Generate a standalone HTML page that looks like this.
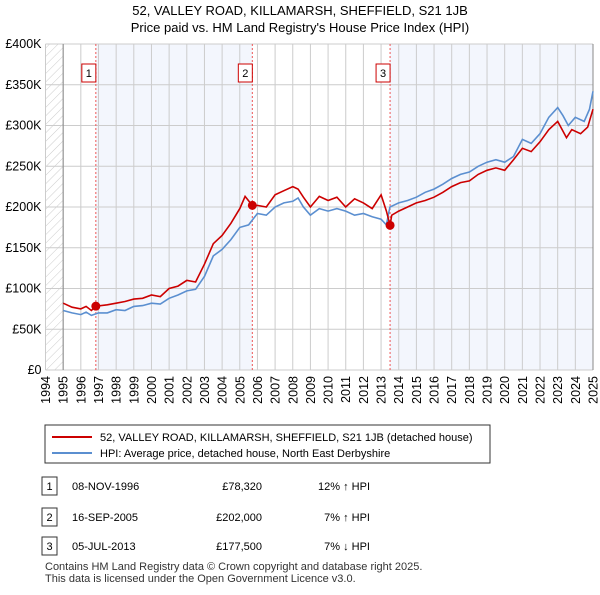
<!DOCTYPE html>
<html><head><meta charset="utf-8"><style>
body{margin:0;background:#fff;font-family:"Liberation Sans","DejaVu Sans",sans-serif;}
svg text{font-family:"Liberation Sans","DejaVu Sans",sans-serif;}
</style></head><body>
<svg width="600" height="590" viewBox="0 0 600 590">
<defs><pattern id="hatch" width="6" height="6" patternUnits="userSpaceOnUse" patternTransform="rotate(45)"><line x1="0" y1="0" x2="0" y2="6" stroke="#ccc" stroke-width="1"/></pattern></defs>
<text x="300" y="15" text-anchor="middle" font-size="13">52, VALLEY ROAD, KILLAMARSH, SHEFFIELD, S21 1JB</text>
<text x="300" y="32" text-anchor="middle" font-size="13">Price paid vs. HM Land Registry's House Price Index (HPI)</text>
<g id="plot"></g>
<rect x="45" y="425" width="445" height="38" fill="#fff" stroke="#333"/>
<line x1="52" y1="437" x2="92" y2="437" stroke="#cc0000" stroke-width="2"/>
<text x="100" y="441" font-size="11">52, VALLEY ROAD, KILLAMARSH, SHEFFIELD, S21 1JB (detached house)</text>
<line x1="52" y1="453" x2="92" y2="453" stroke="#5b8fd0" stroke-width="2"/>
<text x="100" y="457" font-size="11">HPI: Average price, detached house, North East Derbyshire</text>
<g id="table" font-size="11"></g>
<text x="45" y="570" font-size="11" fill="#333">Contains HM Land Registry data © Crown copyright and database right 2025.</text>
<text x="45" y="582" font-size="11" fill="#333">This data is licensed under the Open Government Licence v3.0.</text>
</svg>
<script>
const yTicks=[0,50,100,150,200,250,300,350,400];
const yTickLabels=["£0","£50K","£100K","£150K","£200K","£250K","£300K","£350K","£400K"];
const years=[1994,1995,1996,1997,1998,1999,2000,2001,2002,2003,2004,2005,2006,2007,2008,2009,2010,2011,2012,2013,2014,2015,2016,2017,2018,2019,2020,2021,2022,2023,2024,2025];
const hpiT=[1995,1995.5,1996,1996.3,1996.6,1997,1997.5,1998,1998.5,1999,1999.5,2000,2000.5,2001,2001.5,2002,2002.5,2003,2003.5,2004,2004.5,2005,2005.5,2006,2006.5,2007,2007.5,2008,2008.3,2008.6,2009,2009.5,2010,2010.5,2011,2011.5,2012,2012.5,2013,2013.3,2013.5,2014,2014.5,2015,2015.5,2016,2016.5,2017,2017.5,2018,2018.5,2019,2019.5,2020,2020.5,2021,2021.5,2022,2022.5,2023,2023.3,2023.6,2024,2024.5,2024.8,2025];
const hpiV=[73,70,68,71,67,70,70,74,73,78,79,82,81,88,92,97,99,115,140,148,160,175,178,192,190,200,205,207,211,200,190,198,195,198,195,190,192,188,185,178,200,205,208,212,218,222,228,235,240,243,250,255,258,255,262,283,278,290,310,322,312,300,310,305,320,342];
const redT=[1995,1995.5,1996,1996.3,1996.6,1996.85,1997.5,1998,1998.5,1999,1999.5,2000,2000.5,2001,2001.5,2002,2002.5,2003,2003.5,2004,2004.5,2005,2005.3,2005.71,2006,2006.5,2007,2007.5,2008,2008.3,2008.6,2009,2009.5,2010,2010.5,2011,2011.5,2012,2012.5,2013,2013.3,2013.51,2013.6,2014,2014.5,2015,2015.5,2016,2016.5,2017,2017.5,2018,2018.5,2019,2019.5,2020,2020.5,2021,2021.5,2022,2022.5,2023,2023.5,2023.8,2024.3,2024.7,2025];
const redV=[82,77,75,78,73,78.3,80,82,84,87,88,92,90,100,103,110,108,130,155,165,180,198,213,202,202,200,215,220,225,222,212,200,213,208,212,200,210,205,198,215,195,177.5,190,195,200,205,208,212,218,225,230,232,240,245,248,245,258,272,268,280,295,305,285,295,290,298,320];
const saleT=[1996.85,2005.71,2013.51];
const saleV=[78.32,202,177.5];
const saleDates=["08-NOV-1996","16-SEP-2005","05-JUL-2013"];
const salePrices=["£78,320","£202,000","£177,500"];
const saleHpi=["12% ↑ HPI","7% ↑ HPI","7% ↓ HPI"];

const NS="http://www.w3.org/2000/svg";
const X0=45.5,X1=593,Y0=370,Y1=44;
const xs=t=>X0+(t-1994)/31*(X1-X0);
const ys=v=>Y0-v/400*(Y0-Y1);
const plot=document.getElementById('plot');
function mk(tag,at,parent){const e=document.createElementNS(NS,tag);for(const k in at)e.setAttribute(k,at[k]);(parent||plot).appendChild(e);return e;}
let e;
e=mk('rect',{x:X0,y:Y1,width:X1-X0,height:Y0-Y1,fill:'#fff'});


e=mk('rect',{x:X0,y:Y1,width:xs(1995)-X0,height:Y0-Y1,fill:'url(#hatch)'});


e=mk('rect',{x:xs(saleT[0]),y:Y1,width:xs(saleT[1])-xs(saleT[0]),height:Y0-Y1,fill:'#f3f6fd'});


e=mk('rect',{x:xs(saleT[2]),y:Y1,width:X1-xs(saleT[2]),height:Y0-Y1,fill:'#f3f6fd'});


years.forEach(y=>{const x=xs(y);
 e=mk('line',{x1:x,y1:Y1,x2:x,y2:Y0,stroke:'#ccc'});
 
 
 e=mk('text',{x:0,y:0,transform:`translate(${x+4.5},${Y0+6}) rotate(-90)`,'text-anchor':'end','font-size':12.5});
 e.textContent=y;
 
 
});
yTicks.forEach((v,i)=>{const y=ys(v);
 e=mk('line',{x1:X0,y1:y,x2:X1,y2:y,stroke:'#ccc'});
 
 
 e=mk('text',{x:X0-4,y:y+4,'text-anchor':'end','font-size':12.5});
 e.textContent=yTickLabels[i];
 
 
});
e=mk('line',{x1:xs(1995),y1:Y1,x2:xs(1995),y2:Y0,stroke:'#888'});


e=mk('line',{x1:X1,y1:Y1,x2:X1,y2:Y0,stroke:'#888'});


saleT.forEach((t,i)=>{const x=xs(t);
 e=mk('line',{x1:x,y1:Y1,x2:x,y2:Y0,stroke:'#e55','stroke-dasharray':'2,2'});
 
 
 e=mk('rect',{x:x-14,y:64,width:14,height:18,fill:'#fff',stroke:'#c00'});
 
 
 e=mk('text',{x:x-7,y:77,'text-anchor':'middle','font-size':11});
 e.textContent=i+1;
 
 
});
function path(T,V,c,name){let d=T.map((t,i)=>(i?'L':'M')+xs(t).toFixed(1)+','+ys(V[i]).toFixed(1)).join('');
 e=mk('path',{d:d,fill:'none',stroke:c,'stroke-width':1.6});
 
 }
path(hpiT,hpiV,'#5b8fd0','hpi-line');
path(redT,redV,'#cc0000','price-paid-line');
saleT.forEach((t,i)=>{
 e=mk('circle',{cx:xs(t),cy:ys(saleV[i]),r:4.5,fill:'#cc0000'});
 
 
});
const tb=document.getElementById('table');
const rowsY=[486,517,546];
rowsY.forEach((y,i)=>{
 e=mk('rect',{x:42,y:y-9,width:15,height:18,fill:'#fff',stroke:'#333'},tb);
 
 
 e=mk('text',{x:49.5,y:y+4,'text-anchor':'middle'},tb);e.textContent=i+1;
 
 
 e=mk('text',{x:72,y:y+4},tb);e.textContent=saleDates[i];
 
 
 e=mk('text',{x:262,y:y+4,'text-anchor':'end'},tb);e.textContent=salePrices[i];
 
 
 e=mk('text',{x:370,y:y+4,'text-anchor':'end'},tb);e.textContent=saleHpi[i];
 
 
});
</script>
</body></html>
